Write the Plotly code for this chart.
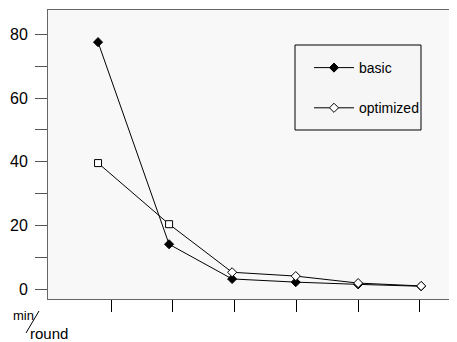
import plotly.graph_objects as go

round_pos = [0.79, 1.94, 2.96, 3.99, 5.0, 6.02]
basic = [77.6, 14.1, 3.2, 2.2, 1.5, 0.9]
optimized = [39.6, 20.4, 5.3, 4.1, 1.9, 1.0]
opt_symbols = ["square", "square", "diamond", "diamond", "diamond", "diamond"]
series_names = ["basic", "optimized"]
y_tickvals = [0, 10, 20, 30, 40, 50, 60, 70, 80]
y_ticktext = ["0", "", "20", "", "40", "", "60", "", "80"]
x_tickvals = [1, 2, 3, 4, 5, 6]

FONT = "Liberation Sans, Arial, sans-serif"

# page body has an 8px margin; figure coordinates are offset by it
OFF = 8
W, H = 457, 342
L, R, T, B = 48 - OFF, OFF, 10 - OFF, H - 299 + OFF

fig = go.Figure()
fig.add_trace(go.Scatter(
    x=round_pos, y=basic, name=series_names[0], mode="lines+markers",
    line=dict(color="black", width=1), showlegend=False,
    marker=dict(symbol="diamond", size=7, color="black", line=dict(color="black", width=1)),
))
fig.add_trace(go.Scatter(
    x=round_pos, y=optimized, name=series_names[1], mode="lines+markers",
    line=dict(color="black", width=1), showlegend=False,
    marker=dict(symbol=opt_symbols, size=7, color="white", line=dict(color="black", width=1)),
))
# legend entries
fig.add_trace(go.Scatter(
    x=[None], y=[None], name=series_names[0], mode="lines+markers", legendgroup="a",
    line=dict(color="black", width=1),
    marker=dict(symbol="diamond", size=7, color="black", line=dict(color="black", width=1)),
))
fig.add_trace(go.Scatter(
    x=[None], y=[None], name=series_names[1], mode="lines+markers", legendgroup="b",
    line=dict(color="black", width=1),
    marker=dict(symbol="diamond", size=7, color="white", line=dict(color="black", width=1)),
))

pw = W - L - R
ph = H - T - B

def px_to_paper(px, py):
    # px, py in window pixels
    return (px - OFF - L) / pw, (H - B - (py - OFF)) / ph

lx, ly = px_to_paper(309, 52)

fig.update_layout(
    width=W, height=H,
    margin=dict(l=L, r=R, t=T, b=B, autoexpand=False),
    paper_bgcolor="white",
    plot_bgcolor="#f8f8f8",
    font=dict(family=FONT, color="black"),
    showlegend=True,
    legend=dict(
        x=lx, y=ly, xanchor="left", yanchor="top",
        bgcolor="rgba(0,0,0,0)", borderwidth=0,
        font=dict(size=14, family=FONT),
        tracegroupgap=19, itemwidth=40,
    ),
    xaxis=dict(
        range=[-0.02, 6.6], tickvals=x_tickvals, ticktext=[""] * 6,
        ticks="outside", ticklen=12, tickcolor="black", tickwidth=1,
        showline=True, linecolor="#666666", linewidth=1, mirror=True,
        showgrid=False, zeroline=False,
    ),
    yaxis=dict(
        range=[-3.1, 87.7], tickvals=y_tickvals, ticktext=y_ticktext,
        ticks="outside", ticklen=12, tickcolor="#555555", tickwidth=1,
        showline=True, linecolor="#666666", linewidth=1,
        showgrid=False, zeroline=False, ticklabelstandoff=4,
        tickfont=dict(size=16, family=FONT),
    ),
)

# legend frame
bx0, by0 = px_to_paper(295, 45)
bx1, by1 = px_to_paper(421, 130)
fig.add_shape(type="rect", xref="paper", yref="paper", x0=bx0, y0=by0, x1=bx1, y1=by1,
              fillcolor="#f6f6f6", opacity=1, line=dict(color="black", width=1), layer="above")

for txt, px, py, sz in [("min", 11, 315, 13), ("round", 28, 333, 15)]:
    xx, yy = px_to_paper(px, py)
    fig.add_annotation(text=txt, x=xx, y=yy, xref="paper", yref="paper", showarrow=False,
                       font=dict(size=sz, family=FONT), xanchor="left", yanchor="middle")

x0, y0 = px_to_paper(39, 311)
x1, y1 = px_to_paper(26, 333)
fig.add_shape(type="line", xref="paper", yref="paper", x0=x0, y0=y0, x1=x1, y1=y1,
              line=dict(color="black", width=1))

fig.write_html("out.html")
